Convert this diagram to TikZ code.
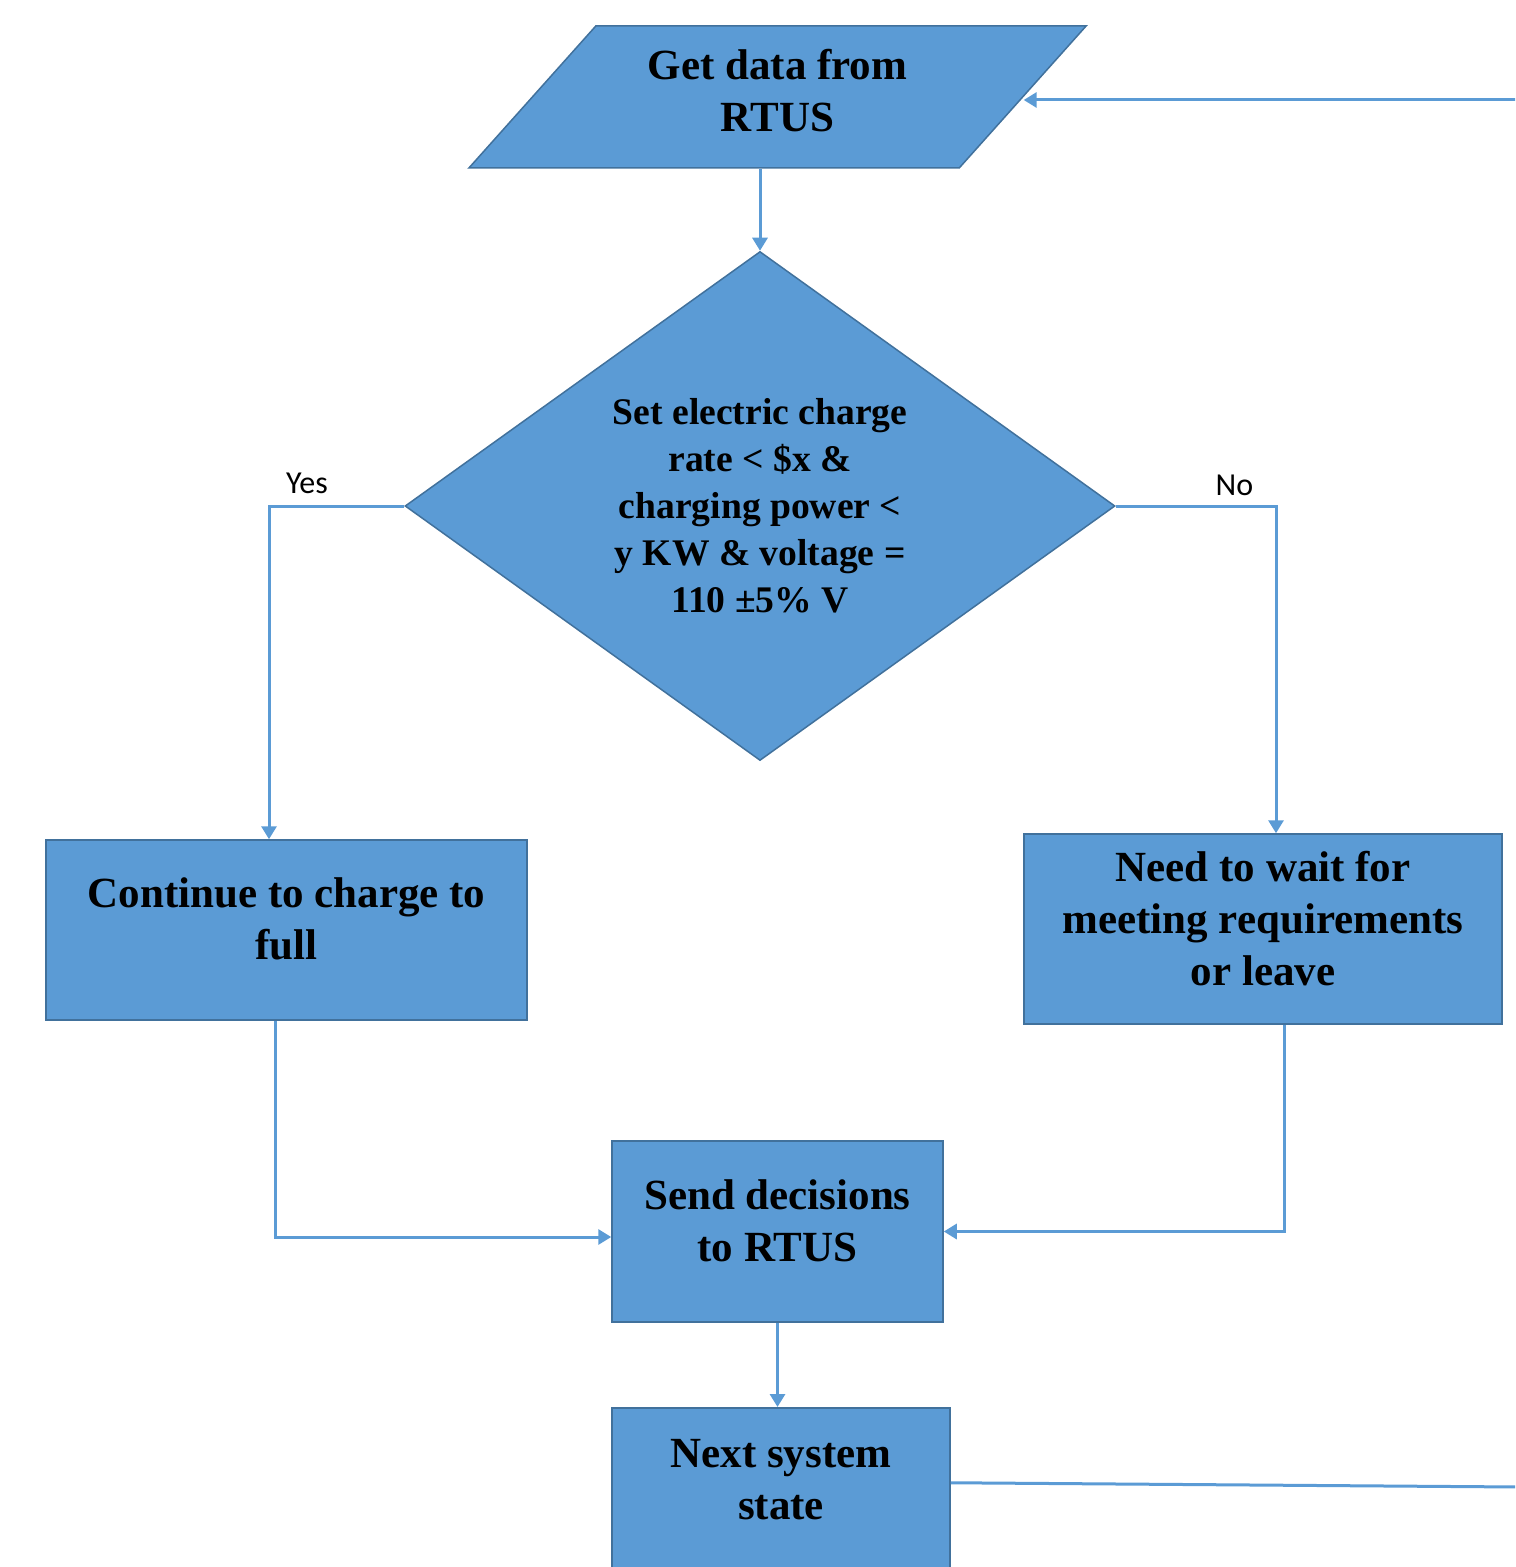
\documentclass[tikz,border=0pt]{standalone}
\usepackage{fontspec}
\setmainfont{Liberation Serif}
\newfontfamily\lblfont{Carlito}
\usetikzlibrary{shapes.geometric,arrows.meta,positioning,calc}
\definecolor{boxblue}{HTML}{5B9BD5}
\definecolor{boxedge}{HTML}{41719C}
\tikzset{
  block/.style={rectangle,draw=boxedge,fill=boxblue,line width=0.75pt,align=center,
    text depth=11pt,font=\bfseries\fontsize{21.5}{26}\selectfont},
  io/.style={block,trapezium,trapezium left angle=49,trapezium right angle=131,
    trapezium stretches=true,text depth=7pt},
  decision/.style={block,diamond,inner sep=0pt,text depth={},font=\bfseries\fontsize{18.8}{23.5}\selectfont},
  flow/.style={draw=boxblue,line width=1.5pt},
  lbl/.style={font=\lblfont\fontsize{16}{18}\selectfont,text=black}
}

\begin{document}
\begin{tikzpicture}[x=0.5pt,y=-0.5pt,>={Triangle[length=6.5pt,width=7.5pt]}]
    \useasboundingbox (0,0) rectangle (1515,1567);
    \clip (0,0) rectangle (1515,1567);
    \node[io,minimum width=309.5pt,minimum height=71pt] (get) at (777.5,97) {Get data from\\RTUS};
    \node[decision,minimum width=355pt,minimum height=251pt] (dec) at (760,506)
      {Set electric charge\\rate < \$x \&\\charging power <\\y KW \& voltage =\\110 ±5\% V};
    \node[block,minimum width=240.5pt,minimum height=90pt] (cont) at (286.5,930) {Continue to charge to\\full};
    \node[block,minimum width=239pt,minimum height=95pt] (wait) at (1263,929)
      {Need to wait for\\meeting requirements\\or leave};
    \node[block,minimum width=165.5pt,minimum height=90.5pt] (snd) at (777.5,1231.5) {Send decisions\\to RTUS};
    \node[block,minimum width=169pt,minimum height=83pt,anchor=north] (nxt) at (781,1407) {Next system\\state};
    \coordinate (rin) at (1520,100);
    \coordinate (rout) at (1520,1487);
    \draw[flow,->] (get.south -| dec.north) -- (dec.north);
    \draw[flow,->] (dec.west) -| ([xshift=-8.75pt]cont.north) node[lbl,pos=0.36,above,yshift=2pt] (yes) {Yes};
    \draw[flow,->] (dec.east) -| ([xshift=6.5pt]wait.north) node[lbl,pos=0.37,above,yshift=1pt] (no) {No};
    \draw[flow,->] ([xshift=-5.75pt]cont.south) |- ([yshift=-2.75pt]snd.west);
    \draw[flow,->] ([xshift=10.5pt]wait.south) |- (snd.east);
    \draw[flow,->] (snd.south) -- (snd.south |- nxt.north);
    \draw[flow] ([yshift=4pt]nxt.east) -- (rout);
    \draw[flow,->] (rin) -- (get.east |- rin);
\end{tikzpicture}
\end{document}
